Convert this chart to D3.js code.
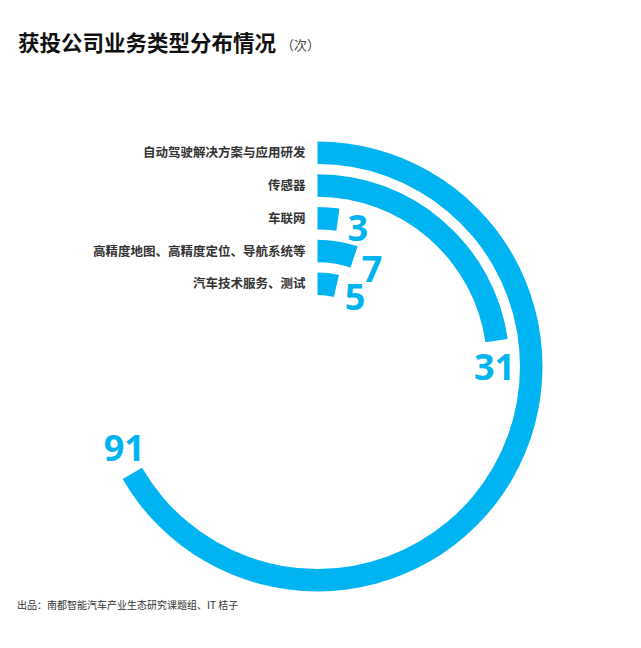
<!DOCTYPE html>
<html>
<head>
<meta charset="utf-8">
<script src="https://cdn.jsdelivr.net/npm/d3@7/dist/d3.min.js"></script>
<style>
  html, body { margin: 0; padding: 0; background: #fff; }
  svg { display: block; }
</style>
</head>
<body>
<div id="chart"></div>
<script>
const categories = ["自动驾驶解决方案与应用研发", "传感器", "车联网", "高精度地图、高精度定位、导航系统等", "汽车技术服务、测试"];
const values = [91, 31, 3, 7, 5];
const title = "获投公司业务类型分布情况";
const unit = "（次）";
const source = "出品：南都智能汽车产业生态研究课题组、IT 桔子";

const W = 641, H = 648;
const cx = 317.5, cy = 366.5;
const outerR = 225;
const blue = "#00b4f2";
const cjk = "'Noto Sans CJK SC', 'Noto Sans', sans-serif";
const num = "'Noto Sans', 'Open Sans', sans-serif";

const svg = d3.select("#chart").append("svg").attr("width", W).attr("height", H);

svg.append("text").attr("x", 18).attr("y", 51)
  .attr("font-family", cjk).attr("font-size", 21.5).attr("font-weight", "bold")
  .attr("fill", "#111").text(title);
svg.append("text").attr("x", 281).attr("y", 50)
  .attr("font-family", cjk).attr("font-size", 13).attr("fill", "#444").text(unit);

const angle = d3.scaleLinear().domain([0, d3.max(values)]).range([0, Math.PI * 4 / 3]);
const band = d3.scaleBand().domain(categories).range([0, 153.5]).paddingInner(0.313).paddingOuter(0);
const bw = band.bandwidth();

const data = categories.map((c, i) => ({ c, v: values[i] }));
const g = svg.append("g").attr("transform", `translate(${cx},${cy})`);

const arc = d3.arc()
  .innerRadius(d => outerR - band(d.c) - bw)
  .outerRadius(d => outerR - band(d.c))
  .startAngle(0)
  .endAngle(d => angle(d.v));

g.selectAll("path.bar").data(data).join("path")
  .attr("class", "bar").attr("d", arc).attr("fill", blue);

g.selectAll("text.cat").data(data).join("text")
  .attr("class", "cat")
  .attr("x", -12)
  .attr("y", d => -(outerR - band(d.c) - bw / 2))
  .attr("dy", "0.36em")
  .attr("text-anchor", "end")
  .attr("font-family", cjk).attr("font-size", 12.5).attr("font-weight", "bold")
  .attr("fill", "#333").text(d => d.c);

g.selectAll("text.val").data(data).join("text")
  .attr("class", "val")
  .each(function(d) {
    const s = String(d.v);
    const r = outerR - band(d.c) - bw / 2 - 4;
    const a = angle(d.v) + (16 + 5 * s.length) / r;
    d3.select(this)
      .attr("x", r * Math.sin(a))
      .attr("y", -r * Math.cos(a));
  })
  .attr("dy", "0.36em")
  .attr("text-anchor", "middle")
  .attr("font-family", num).attr("font-size", 36).attr("font-weight", "bold")
  .attr("fill", blue).text(d => d.v);

svg.append("text").attr("x", 17).attr("y", 609)
  .attr("font-family", cjk).attr("font-size", 10).attr("fill", "#333").text(source);
</script>
</body>
</html>
